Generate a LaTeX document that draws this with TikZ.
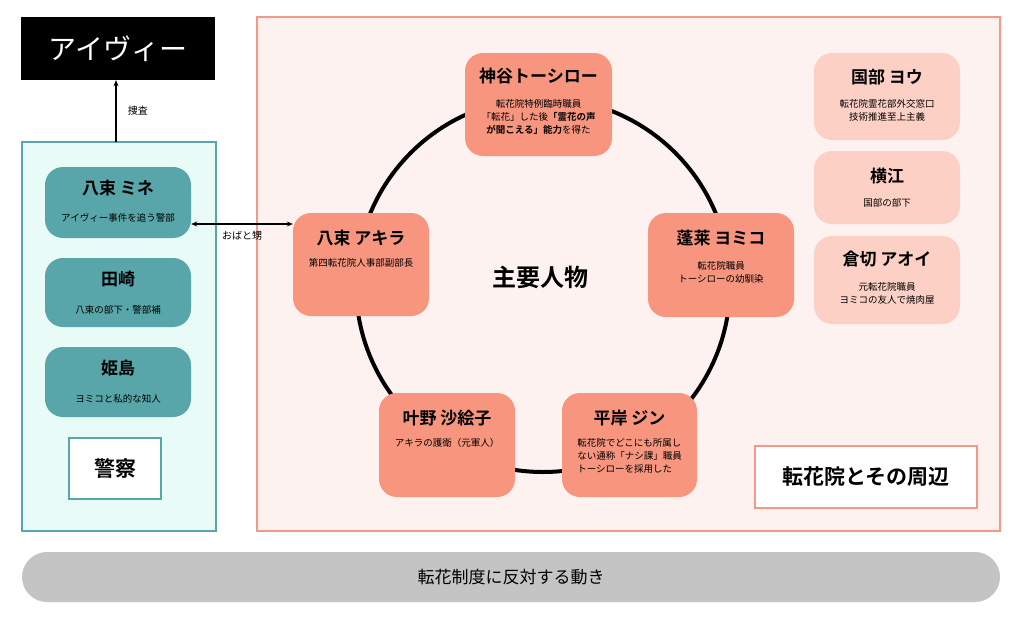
\documentclass[tikz,border=0pt]{standalone}
\usepackage{fontspec}
\setmainfont{Noto Sans CJK JP}[BoldFont={Noto Sans CJK JP Bold}]
\usetikzlibrary{arrows.meta}
\definecolor{teal1}{HTML}{58A6AA}
\definecolor{tealbg}{HTML}{E8FBF6}
\definecolor{pinkbg}{HTML}{FDF2EF}
\definecolor{pinkline}{HTML}{F29A87}
\definecolor{salmon}{HTML}{F7957F}
\definecolor{lightsal}{HTML}{FDD0C6}
\definecolor{greybar}{HTML}{C4C4C4}
\begin{document}
\begin{tikzpicture}[x=1pt,y=-1pt,
  box/.style={draw=none,rounded corners=18pt,inner sep=0pt},
  ttl/.style={font=\bfseries\fontsize{17}{20}\selectfont,anchor=north},
  sub/.style={font=\fontsize{9.5}{13}\selectfont,align=center,anchor=north},
  arr/.style={-{Stealth[length=6pt,width=5pt]},line width=1.2pt}]
\useasboundingbox (0,0) rectangle (1024,624);
\fill[white] (0,0) rectangle (1024,624);
% containers
\node[draw=teal1,fill=tealbg,line width=1.2pt,minimum width=194pt,minimum height=389pt,inner sep=0pt] (police) at (119,336.5) {};
\node[draw=pinkline,fill=pinkbg,line width=1.2pt,minimum width=743pt,minimum height=514pt,inner sep=0pt] (tenka) at (628.5,274) {};
% ivy
\node[fill=black,minimum width=194pt,minimum height=63pt,inner sep=0pt,text=white,font=\fontsize{28}{30}\selectfont] (ivy) at (118,48.5) {アイヴィー};
\draw[arr] (116,142) -- (ivy.south -| 116,0) node[midway,right=8pt,font=\fontsize{10}{12}\selectfont]{捜査};
% police nodes
\foreach \n/\y/\h in {mine/202.5/71, tasaki/292.5/69, hime/382/70}
  \node[box,fill=teal1,minimum width=146pt,minimum height=\h pt] (\n) at (118,\y) {};
\node[ttl] at ([yshift=-10pt]mine.north) {八束 ミネ};
\node[sub] at ([yshift=-43pt]mine.north) {アイヴィー事件を追う警部};
\node[ttl] at ([yshift=-10pt]tasaki.north) {田崎};
\node[sub] at ([yshift=-44pt]tasaki.north) {八束の部下・警部補};
\node[ttl] at ([yshift=-10pt]hime.north) {姫島};
\node[sub] at ([yshift=-44pt]hime.north) {ヨミコと私的な知人};
\node[draw=teal1,fill=white,line width=1.2pt,minimum width=92pt,minimum height=61pt,font=\bfseries\fontsize{21}{24}\selectfont] (keisatsu) at (115,468.5) {警察};
% circle
\draw[line width=4pt] (543,285) circle (187pt);
\node[font=\bfseries\fontsize{24}{28}\selectfont] (shuyo) at (540,277) {主要人物};
% main nodes
\node[box,fill=salmon,minimum width=147pt,minimum height=103pt] (kamiya) at (538.5,104.5) {};
\node[box,fill=salmon,minimum width=136pt,minimum height=103pt] (akira) at (361,264.5) {};
\node[box,fill=salmon,minimum width=146pt,minimum height=104pt] (yomiko) at (721,265) {};
\node[box,fill=salmon,minimum width=136pt,minimum height=104pt] (kano) at (447,445) {};
\node[box,fill=salmon,minimum width=135pt,minimum height=104pt] (hira) at (629.5,445) {};
\node[ttl] at ([yshift=-12pt]kamiya.north) {神谷トーシロー};
\node[sub] at ([yshift=-43pt]kamiya.north) {転花院特例臨時職員\\「転花」した後\textbf{「霊花の声}\\\textbf{が聞こえる」能力}を得た};
\node[ttl] at ([yshift=-14pt]akira.north) {八束 アキラ};
\node[sub] at ([yshift=-42pt]akira.north) {第四転花院人事部副部長};
\node[ttl] at ([yshift=-14pt]yomiko.north) {蓬莱 ヨミコ};
\node[sub] at ([yshift=-45pt]yomiko.north) {転花院職員\\トーシローの幼馴染};
\node[ttl] at ([yshift=-14pt]kano.north) {叶野 沙絵子};
\node[sub] at ([yshift=-42pt]kano.north) {アキラの護衛（元軍人）};
\node[ttl] at ([yshift=-14pt]hira.north) {平岸 ジン};
\node[sub,align=left] at ([yshift=-42pt]hira.north) {転花院でどこにも所属し\\ない通称「ナシ課」職員\\トーシローを採用した};
% relation
\draw[arr,{Stealth[length=6pt,width=5pt]}-{Stealth[length=6pt,width=5pt]}] (mine.east |- 0,224) -- (akira.west |- 0,224) node[midway,below=3pt,font=\fontsize{10}{12}\selectfont]{おばと甥};
% right nodes
\node[box,fill=lightsal,minimum width=146pt,minimum height=87pt] (kunibe) at (887,96.5) {};
\node[box,fill=lightsal,minimum width=146pt,minimum height=73pt] (yokoe) at (887,187.5) {};
\node[box,fill=lightsal,minimum width=146pt,minimum height=88pt] (kura) at (887,280) {};
\node[ttl] at ([yshift=-13pt]kunibe.north) {国部 ヨウ};
\node[sub] at ([yshift=-43pt]kunibe.north) {転花院霊花部外交窓口\\技術推進至上主義};
\node[ttl] at ([yshift=-14pt]yokoe.north) {横江};
\node[sub] at ([yshift=-44pt]yokoe.north) {国部の部下};
\node[ttl] at ([yshift=-12pt]kura.north) {倉切 アオイ};
\node[sub] at ([yshift=-43pt]kura.north) {元転花院職員\\ヨミコの友人で焼肉屋};
\node[draw=pinkline,fill=white,line width=1.2pt,minimum width=222pt,minimum height=62pt,font=\bfseries\fontsize{21}{24}\selectfont] (tenkalbl) at (866,477) {転花院とその周辺};
% bottom bar
\node[fill=greybar,rounded corners=25pt,minimum width=978pt,minimum height=50pt,inner sep=0pt,font=\fontsize{17}{20}\selectfont] (hantai) at (511,577) {転花制度に反対する動き};
\end{tikzpicture}
\end{document}
